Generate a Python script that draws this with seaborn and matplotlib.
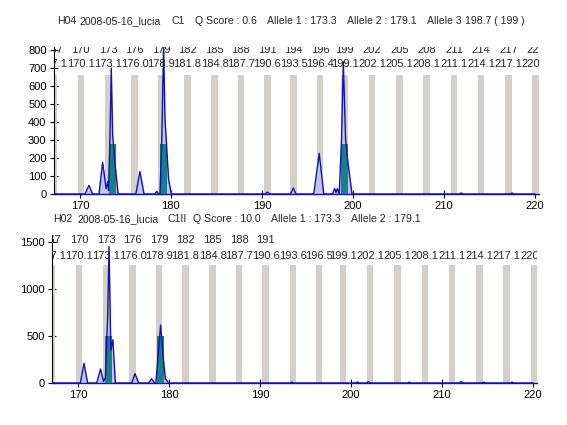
import matplotlib
matplotlib.use('Agg')
import matplotlib.pyplot as plt
import seaborn as sns

sns.set_style('white')
plt.rcParams['font.family'] = ['Liberation Sans', 'DejaVu Sans']

# bin positions (grey ladder) and their labels
top_bins = [167.1, 170.1, 173.1, 176.0, 178.9, 181.8, 184.8, 187.7, 190.6, 193.5,
            196.4, 199.1, 202.1, 205.1, 208.1, 211.1, 214.1, 217.1, 220.1]
top_bin_names = ['167', '170', '173', '176', '179', '182', '185', '188', '191', '194',
                 '196', '199', '202', '205', '208', '211', '214', '217', '220']
bot_bins = [167.1, 170.1, 173.1, 176.0, 178.9, 181.8, 184.8, 187.7, 190.6, 193.6,
            196.5, 199.1, 202.1, 205.1, 208.1, 211.1, 214.1, 217.1, 220.1]
bot_bin_names = ['167', '170', '173', '176', '179', '182', '185', '188', '191']

# electropherogram trace, sample H04
top_x = [167.1,
         170.55, 171.0, 171.4,
         172.1, 172.5, 172.88, 173.08, 173.15, 173.3, 173.45, 173.6, 173.8, 174.2,
         176.15, 176.6, 177.05,
         178.25, 178.45, 178.65,
         178.8, 179.0, 179.2, 179.35, 179.55, 179.75, 180.05,
         190.35, 190.6, 190.9,
         193.15, 193.45, 193.75,
         195.7, 196.3, 196.8,
         197.75, 198.0, 198.15, 198.3, 198.5, 198.75, 198.95, 199.2, 199.4, 199.9,
         211.7, 211.9, 212.1,
         217.3, 217.5, 217.7,
         220.0]
top_y = [0,
         0, 48, 0,
         0, 176, 30, 70, 20, 300, 700, 330, 200, 0,
         0, 125, 0,
         0, 15, 0,
         0, 300, 830, 420, 250, 80, 0,
         0, 10, 0,
         0, 33, 0,
         0, 226, 0,
         0, 30, 8, 30, 0, 300, 735, 300, 200, 0,
         0, 6, 0,
         0, 6, 0,
         0]

# electropherogram trace, sample H02
bot_x = [167.1,
         170.25, 170.65, 171.05,
         172.05, 172.47, 172.8, 173.0, 173.25, 173.4, 173.6, 173.82, 174.1,
         175.9, 176.25, 176.65,
         177.75, 178.08, 178.4,
         178.55, 178.8, 179.07, 179.35, 179.6, 179.75, 179.95,
         193.3, 193.5, 193.7,
         200.5, 200.7, 200.9,
         201.7, 201.9, 202.1,
         206.2, 206.4, 206.6,
         211.9, 212.1, 212.3,
         214.4, 214.6, 214.8,
         217.5, 217.7, 217.9,
         220.0]
bot_y = [0,
         0, 210, 0,
         0, 149, 15, 60, 700, 1450, 350, 460, 0,
         0, 100, 0,
         0, 45, 0,
         0, 300, 617, 280, 40, 30, 0,
         0, 10, 0,
         0, 12, 0,
         0, 15, 0,
         0, 10, 0,
         0, 15, 0,
         0, 10, 0,
         0, 10, 0,
         0]

# allele calls (teal bars)
top_calls = [173.55, 179.2, 199.05]
top_call_h = [280, 280, 280]
bot_calls = [173.3, 179.05]
bot_call_h = [500, 500]

top_title = [('H04', 57), ('2008-05-16_lucia', 80), ('C1', 172), ('Q Score : 0.6', 195),
             ('Allele 1 : 173.3', 267), ('Allele 2 : 179.1', 347), ('Allele 3', 427),
             ('198.7 ( 199 )', 465)]
bot_title = [('H02', 53), ('2008-05-16_lucia', 78), ('C1II', 168), ('Q Score : 10.0', 193),
             ('Allele 1 : 173.3', 271), ('Allele 2 : 179.1', 351)]

GREY = '#D4D0C8'
TEAL = '#168088'
NAVY = '#1010B4'
LAV = '#C4C4EE'
FS = 8
FS_TITLE = 7.6

W, H = 567, 425
fig = plt.figure(figsize=(W / 100, H / 100), dpi=100)
ax1 = fig.add_axes([53.5 / W, 1 - 194 / H, 485 / W, 147 / H])
ax2 = fig.add_axes([51.7 / W, 1 - 383 / H, 485 / W, 148 / H])


def draw_panel(ax, bins, names, xs, ys, calls, call_h, ytop, yticks, bar_top, row1, row2):
    for b in bins:
        ax.axvspan(b - 0.36, b + 0.36, ymin=0, ymax=bar_top, color=GREY, lw=0, zorder=1)
    ax.fill_between(xs, ys, 0, color=LAV, lw=0, zorder=2)
    ax.bar(calls, call_h, width=0.75, color=TEAL, lw=0, zorder=3)
    sns.lineplot(x=xs, y=ys, ax=ax, color=NAVY, linewidth=1.0, estimator=None,
                 sort=False, zorder=4)
    tr = ax.get_xaxis_transform()
    for b, n in zip(bins, names):
        ax.text(b, row1, n, transform=tr, ha='center', va='center', fontsize=FS,
                clip_on=True, zorder=5)
    for b in bins:
        ax.text(b, row2, f'{b:.1f}', transform=tr, ha='center', va='center', fontsize=FS,
                clip_on=True, zorder=5)
    ax.set_xlim(167.1, 220.4)
    ax.set_ylim(0, ytop)
    ax.set_xticks([170, 180, 190, 200, 210, 220])
    ax.set_yticks(yticks)
    ax.tick_params(bottom=True, left=True, direction='inout', length=6, width=0.8,
                   colors='black', labelsize=FS, pad=2)
    for s in ['top', 'right']:
        ax.spines[s].set_visible(False)
    ax.spines['left'].set_color('black')
    ax.spines['left'].set_linewidth(0.8)
    ax.spines['bottom'].set_color(NAVY)
    ax.spines['bottom'].set_linewidth(1.0)
    ax.set_xlabel('')
    ax.set_ylabel('')


draw_panel(ax1, top_bins, top_bin_names, top_x, top_y, top_calls, top_call_h,
           817, list(range(0, 801, 100)), 0.81, 0.98, 0.885)
draw_panel(ax2, bot_bins, bot_bin_names, bot_x, bot_y, bot_calls, bot_call_h,
           1574, [0, 500, 1000, 1500], 0.80, 0.966, 0.855)

for txt, px in top_title:
    fig.text(px / W, 1 - 21 / H, txt, ha='left', va='center', fontsize=FS_TITLE)
for txt, px in bot_title:
    fig.text(px / W, 1 - 219 / H, txt, ha='left', va='center', fontsize=FS_TITLE)

fig.savefig('out.png', dpi=100)
